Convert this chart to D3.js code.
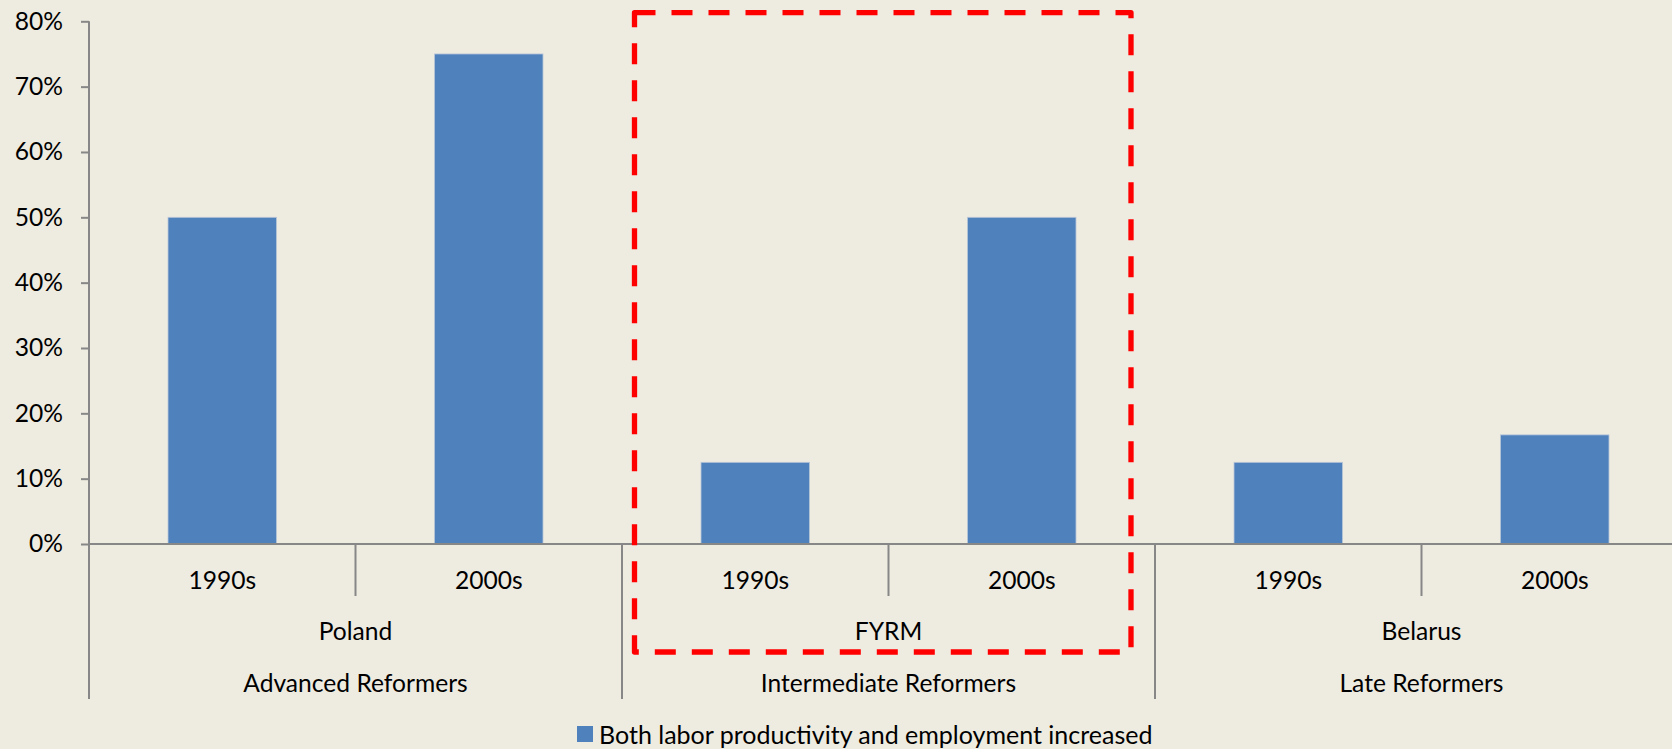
<!DOCTYPE html>
<html>
<head>
<meta charset="utf-8">
<script src="https://cdn.jsdelivr.net/npm/d3@7"></script>
<style>
  html, body { margin: 0; padding: 0; background: #EEEBE0; }
  svg { display: block; }
  text { font-family: Lato, "Open Sans", sans-serif; fill: #000; }
</style>
</head>
<body>
<svg id="chart" width="1672" height="749"></svg>
<script>
// ---- data ----
const groups = ["Advanced Reformers", "Intermediate Reformers", "Late Reformers"];
const countries = ["Poland", "FYRM", "Belarus"];
const periods = ["1990s", "2000s"];
const values = [0.50, 0.75, 0.125, 0.50, 0.125, 0.167];
const yTicks = [0, 0.1, 0.2, 0.3, 0.4, 0.5, 0.6, 0.7, 0.8];
const seriesName = "Both labor productivity and employment increased";
const highlightCountry = "FYRM";

// ---- layout ----
const W = 1672, H = 749;
const plotLeft = 89, slotW = 266.5, zeroY = 544, topY = 21.3;
const fontSize = 24.6;
const axisColor = "#878787";
const barColor = "#4F81BD";

const cats = [];
countries.forEach((c, i) => periods.forEach((p, j) => cats.push({country: c, group: groups[i], period: p, key: c + "|" + p, value: values[i * periods.length + j]})));

const svg = d3.select("#chart");
svg.append("rect").attr("width", W).attr("height", H).attr("fill", "#EEEBE0");

const x = d3.scaleBand().domain(cats.map(d => d.key)).range([plotLeft, plotLeft + slotW * cats.length]).padding(0);
const xg = d3.scaleBand().domain(countries).range([plotLeft, plotLeft + slotW * cats.length]).padding(0);
const y = d3.scaleLinear().domain([0, 0.8]).range([zeroY, topY]);
const barFrac = 0.407;

// y axis
const yAxis = d3.axisLeft(y).tickValues(yTicks).tickFormat(d3.format(".0%")).tickSize(8).tickPadding(18);
const yg = svg.append("g").attr("transform", `translate(${plotLeft},0)`).call(yAxis);
yg.select(".domain").attr("stroke", axisColor).attr("stroke-width", 2).attr("d", `M0,${y(0.8)}V${zeroY}`);
yg.selectAll(".tick line").attr("stroke", axisColor).attr("stroke-width", 2);
yg.selectAll(".tick text").style("font-size", fontSize + "px").attr("font-family", "Lato").attr("fill", "#000");

// bars
svg.append("g").selectAll("rect").data(cats).join("rect")
  .attr("x", d => x(d.key) + x.bandwidth() * (1 - barFrac) / 2)
  .attr("width", x.bandwidth() * barFrac)
  .attr("y", d => y(d.value))
  .attr("height", d => y(0) - y(d.value))
  .attr("fill", barColor)
  .attr("stroke", "#b8c6d8").attr("stroke-width", 0.8);

// x axis line
svg.append("line").attr("x1", plotLeft).attr("x2", W + 20).attr("y1", zeroY).attr("y2", zeroY)
  .attr("stroke", axisColor).attr("stroke-width", 2);

// level-1 separators (between periods within a country)
const lvl1Bottom = 596, lvl3Bottom = 699;
countries.forEach(c => {
  const xm = xg(c) + xg.bandwidth() / 2;
  svg.append("line").attr("x1", xm).attr("x2", xm).attr("y1", zeroY).attr("y2", lvl1Bottom)
    .attr("stroke", axisColor).attr("stroke-width", 2);
});
// group separators
countries.concat([null]).forEach((c, i) => {
  const xs = c ? xg(c) : xg(countries[countries.length - 1]) + xg.bandwidth();
  svg.append("line").attr("x1", xs).attr("x2", xs).attr("y1", zeroY).attr("y2", lvl3Bottom)
    .attr("stroke", axisColor).attr("stroke-width", 2);
});

// category labels
svg.append("g").selectAll("text").data(cats).join("text")
  .attr("x", d => x(d.key) + x.bandwidth() / 2).attr("y", 579)
  .attr("text-anchor", "middle").attr("dominant-baseline", "central")
  .style("font-size", fontSize + "px").text(d => d.period);
svg.append("g").selectAll("text").data(countries).join("text")
  .attr("x", d => xg(d) + xg.bandwidth() / 2).attr("y", 630)
  .attr("text-anchor", "middle").attr("dominant-baseline", "central")
  .style("font-size", fontSize + "px").text(d => d);
svg.append("g").selectAll("text").data(groups).join("text")
  .attr("x", (d, i) => xg(countries[i]) + xg.bandwidth() / 2).attr("y", 682)
  .attr("text-anchor", "middle").attr("dominant-baseline", "central")
  .style("font-size", fontSize + "px").text(d => d);

// legend
const lg = svg.append("g");
lg.append("rect").attr("x", 577).attr("y", 726).attr("width", 16).attr("height", 16).attr("fill", barColor);
lg.append("text").attr("x", 599).attr("y", 733.5).attr("dominant-baseline", "central")
  .style("font-size", (fontSize + 0.4) + "px").text(seriesName);

// highlight dashed box around FYRM
const hx0 = xg(highlightCountry) + 12.5;
const hx1 = xg(highlightCountry) + xg.bandwidth() - 24;
const hy0 = y(0.8) - 8.6;
const hy1 = 652;
svg.append("path")
  .attr("d", `M${hx0},${hy0}H${hx1}V${hy1}H${hx0}Z`)
  .attr("fill", "none").attr("stroke", "#FF0000").attr("stroke-width", 5.3)
  .attr("stroke-dasharray", "21,16").attr("stroke-linejoin", "round");
</script>
</body>
</html>
